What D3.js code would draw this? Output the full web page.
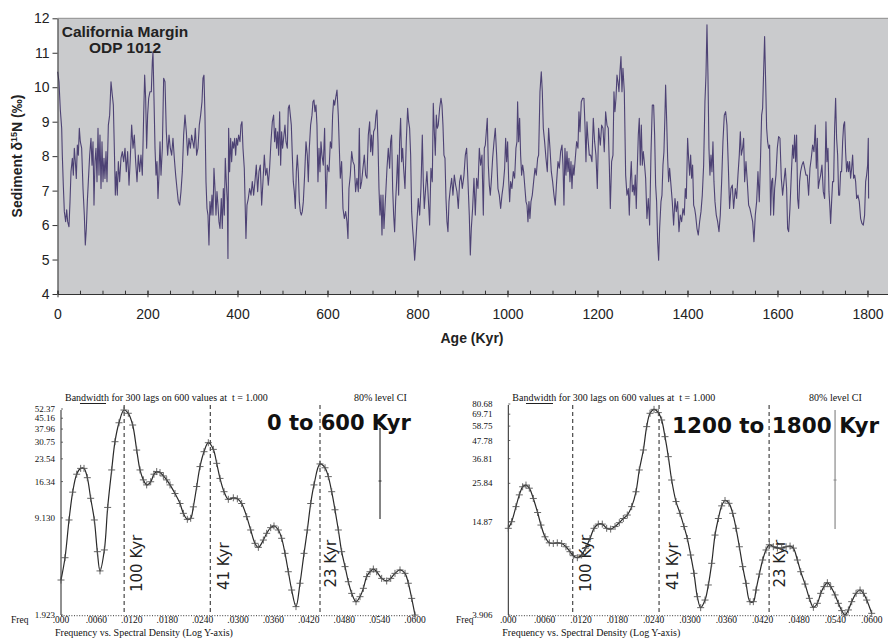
<!DOCTYPE html>
<html>
<head>
<meta charset="utf-8">
<script src="https://cdn.jsdelivr.net/npm/d3@7"></script>
<style>
  body { margin: 0; background: #fff; }
  svg { display: block; }
</style>
</head>
<body>
<svg id="fig" width="888" height="639"></svg>
<script>
// ODP 1012 sediment d15N, [age kyr, permil]
const odp1012 = [
  [0.4,10.45],[3.3,10.16],[6.3,9.34],[9.3,8.81],[10.7,8.03],[12.9,7.16],[15.2,6.39],[18.1,6.10],[20.4,6.44],[22.6,6.10],[25.5,5.95],[27.8,6.68],[30.0,7.55],[33.0,7.94],[35.2,7.45],[37.4,8.23],[39.6,7.84],[41.8,7.35],[44.1,8.32],[46.3,8.03],[48.5,8.81],[50.7,8.42],[53.7,8.23],[56.7,7.06],[59.6,6.29],[61.8,5.42],[64.1,5.90],[66.3,6.68],[68.5,7.26],[71.5,8.03],[74.4,8.52],[76.7,7.74],[78.9,8.42],[81.1,6.58],[83.3,7.84],[85.5,8.23],[87.8,7.26],[90.0,8.81],[92.2,7.45],[94.4,8.61],[96.7,7.06],[98.9,8.42],[101.1,7.26],[103.3,7.94],[105.5,7.35],[107.8,8.13],[110.0,7.26],[113.0,8.90],[115.9,9.19],[118.9,10.16],[121.8,9.77],[124.1,9.48],[126.3,8.23],[128.5,6.87],[130.7,7.55],[132.9,6.87],[135.2,7.84],[138.1,7.26],[141.1,7.94],[144.1,8.13],[147.0,7.84],[150.0,8.23],[152.9,7.55],[155.9,8.13],[158.9,7.16],[161.8,7.94],[164.8,8.90],[167.8,8.23],[170.7,8.61],[173.7,7.84],[176.7,7.26],[179.6,8.03],[182.6,7.55],[185.5,8.03],[188.5,7.45],[191.5,9.19],[193.7,10.35],[195.9,9.68],[198.1,8.23],[200.3,9.19],[202.6,9.68],[205.5,9.87],[208.5,9.87],[210.7,10.74],[212.2,11.03],[214.4,9.68],[216.7,8.23],[218.9,7.45],[221.1,7.84],[223.3,6.77],[225.5,7.45],[227.8,8.42],[230.0,7.45],[233.0,8.23],[235.9,10.26],[238.9,10.16],[241.8,8.71],[244.8,8.03],[247.8,8.61],[250.7,8.23],[253.7,8.03],[256.6,8.52],[259.6,7.94],[262.6,7.45],[265.5,7.06],[268.5,6.68],[271.5,6.58],[274.4,6.97],[277.4,7.55],[280.3,8.61],[283.3,9.19],[286.3,8.71],[289.2,8.03],[292.2,8.52],[295.2,8.23],[298.1,8.61],
  [303.3,8.23],[306.3,8.81],[309.2,8.03],[312.2,8.23],[315.1,8.90],[318.1,9.19],[321.1,9.58],[323.3,10.26],[325.5,10.35],[327.7,9.19],[330.0,7.26],[332.2,6.48],[334.4,6.29],[336.6,5.42],[338.8,6.68],[341.1,6.29],[343.3,6.87],[345.5,6.29],[347.7,7.65],[350.0,7.06],[352.2,6.29],[354.4,6.97],[356.6,6.58],[358.8,6.10],[361.1,5.90],[364.0,6.77],[366.2,5.90],[368.5,7.06],[370.7,6.29],[372.9,7.94],[375.1,7.26],[377.4,6.68],[378.8,5.03],[380.3,8.81],[382.5,7.55],[384.8,8.52],[387.0,7.84],[389.2,8.42],[391.4,8.23],[393.7,8.52],[395.9,8.03],[398.1,8.52],[400.3,8.32],[402.5,8.61],[405.5,8.42],[407.7,8.90],[410.0,9.00],[412.2,8.23],[415.1,7.65],[417.4,6.39],[418.8,5.61],[421.1,6.58],[424.0,6.77],[427.0,7.06],[430.0,6.87],[432.9,7.26],[435.9,6.87],[438.8,7.26],[441.8,7.74],[444.8,6.97],[447.7,7.55],[450.7,7.74],[453.7,6.58],[456.6,7.26],[459.6,8.03],[462.5,7.45],[465.5,7.65],[468.5,7.16],[471.4,7.65],[474.4,8.42],[477.4,9.00],[480.3,9.19],[482.5,8.42],[484.8,8.81],[487.0,8.23],[489.2,8.71],[491.4,8.03],[493.7,9.29],[495.9,7.74],[498.1,8.71],[500.3,8.23],[502.5,8.52],[505.5,8.90],[507.7,8.42],[510.7,8.23],[512.9,9.39],[515.1,9.48],[517.4,9.19],[519.6,8.90],[521.8,8.03],[524.0,7.26],[526.2,6.97],[528.5,6.48],[530.7,7.55],[532.9,8.03],[535.1,7.55],[537.4,6.68],[539.6,6.39],[541.8,6.29],[544.0,6.39],[546.3,6.68],[549.2,7.45],[552.2,8.42],[555.1,8.03],[557.4,7.26],[559.6,8.23],[562.5,8.90],[565.5,9.19],[567.7,9.58],[569.9,9.63],[572.2,9.29],[574.4,9.48],[576.6,8.90],[578.8,7.26],[581.1,8.23],[583.3,7.55],[585.5,8.42],[587.7,8.03],[590.7,7.74],[593.6,8.81],[596.6,6.48],[599.6,7.74],
  [603.3,7.55],[606.3,8.42],[609.2,8.23],[611.4,9.19],[613.7,9.63],[615.9,9.48],[618.1,9.68],[621.1,9.92],[624.0,9.19],[626.3,8.23],[628.5,7.36],[631.4,7.84],[634.4,6.48],[637.4,6.19],[640.3,6.39],[643.3,6.10],[645.5,5.61],[647.7,7.06],[650.7,7.45],[653.7,8.13],[656.6,7.84],[659.6,7.74],[662.5,6.97],[665.5,7.36],[668.5,6.97],[670.7,8.81],[672.9,7.06],[675.9,7.26],[678.8,7.65],[681.8,8.03],[684.8,7.45],[687.7,7.36],[690.7,8.61],[693.7,9.00],[695.9,8.13],[698.1,8.61],[700.3,8.03],[702.5,8.71],[705.5,8.81],[707.7,9.19],[709.9,9.34],[712.2,8.42],[714.4,7.06],[716.6,6.29],[718.8,6.87],[721.1,5.71],[723.3,6.87],[725.5,5.90],[727.7,6.48],[730.0,7.06],[732.2,7.65],[735.1,8.23],[738.1,7.65],[740.3,8.42],[742.5,8.61],[744.8,7.06],[747.0,6.29],[749.2,5.81],[751.4,6.68],[753.6,7.26],[755.9,8.03],[758.1,6.87],[760.3,8.42],[762.5,9.10],[764.8,7.84],[767.0,8.23],[769.2,7.65],[772.2,7.06],[775.1,8.42],[778.1,9.39],[780.3,9.00],[782.5,8.81],[784.8,8.03],[787.0,6.39],[789.2,5.90],[791.4,5.52],[793.7,4.98],[795.9,5.42],[798.8,6.10],[801.8,6.77],[804.8,6.29],[807.7,7.06],[810.7,8.61],[812.9,7.26],[815.1,6.48],[818.1,7.06],[821.0,7.55],[824.0,6.77],[827.0,6.00],[829.9,7.65],[832.9,7.26],[835.1,9.53],[837.4,8.71],[839.6,8.03],[841.8,9.19],[844.0,8.81],[846.2,8.90],[849.2,9.39],[852.2,9.68],[854.4,9.48],[856.6,8.90],[858.8,8.03],[861.1,7.94],[863.3,6.77],[865.5,6.10],[867.7,5.81],[870.0,6.68],[872.9,7.06],[875.9,7.36],[878.8,6.87],[881.8,7.45],[884.8,7.16],[887.7,6.97],[890.7,6.48],[893.6,7.26],[896.6,7.45],[899.6,7.06],
  [903.3,7.45],[906.3,8.03],[909.2,8.23],[912.2,7.26],[915.1,6.29],[917.4,5.13],[919.6,5.90],[922.5,6.48],[925.5,7.36],[928.5,6.29],[931.4,7.36],[934.4,7.06],[937.4,8.23],[940.3,7.74],[943.3,8.03],[946.3,6.29],[948.5,8.23],[950.7,8.32],[952.9,8.71],[955.1,9.10],[957.4,7.74],[959.6,7.16],[961.8,6.87],[964.0,7.26],[967.0,7.94],[970.0,8.42],[972.9,8.81],[975.9,8.03],[978.8,7.06],[981.8,6.87],[984.8,6.48],[987.7,6.87],[990.7,7.16],[993.7,7.65],[995.9,8.52],[998.1,7.84],[1000.3,8.42],[1002.5,7.36],[1004.8,6.68],[1007.0,7.26],[1009.9,7.06],[1012.9,7.55],[1015.9,7.36],[1018.8,8.23],[1021.1,8.42],[1022.5,9.58],[1024.8,8.42],[1027.0,9.10],[1029.2,8.03],[1031.4,7.45],[1033.7,7.74],[1035.9,7.55],[1038.8,7.06],[1041.1,6.68],[1043.3,6.58],[1045.5,6.10],[1047.7,6.68],[1049.9,6.19],[1052.2,6.68],[1055.1,6.87],[1058.1,7.26],[1061.1,7.65],[1064.0,7.45],[1067.0,7.94],[1069.2,8.03],[1072.2,9.87],[1075.1,10.45],[1077.4,9.87],[1079.6,8.81],[1082.5,8.42],[1085.5,7.94],[1088.5,7.55],[1091.4,8.81],[1094.4,8.23],[1097.4,7.55],[1100.3,7.26],[1103.3,6.87],[1106.2,6.58],[1109.2,7.26],[1112.2,7.84],[1115.1,7.65],[1118.1,8.13],[1121.1,8.32],[1123.3,7.74],[1125.5,6.58],[1127.7,8.23],[1129.9,7.45],[1132.2,8.13],[1134.4,7.55],[1136.6,7.94],[1138.8,7.26],[1141.1,7.84],[1143.3,7.06],[1145.5,7.74],[1147.7,7.45],[1150.7,7.94],[1153.6,8.42],[1156.6,8.23],[1158.8,9.29],[1161.1,8.71],[1164.0,9.58],[1167.0,9.68],[1169.9,9.68],[1172.2,8.90],[1174.4,7.84],[1176.6,9.00],[1178.8,8.52],[1181.8,8.03],[1184.8,8.03],[1187.7,7.84],[1190.7,9.10],[1193.6,8.42],[1196.6,8.03],[1199.6,7.06],[1202.5,8.81],
  [1206.3,8.32],[1209.2,8.90],[1212.2,8.81],[1215.1,8.13],[1218.1,9.29],[1221.1,8.90],[1224.0,8.81],[1226.3,7.74],[1228.5,6.48],[1231.4,7.84],[1234.4,8.03],[1236.6,9.87],[1238.8,9.29],[1241.1,9.68],[1243.3,10.35],[1245.5,10.16],[1247.7,9.87],[1249.9,10.45],[1252.2,10.89],[1254.4,9.87],[1256.6,10.55],[1259.6,9.87],[1262.6,7.45],[1265.5,6.87],[1268.5,7.06],[1270.7,6.29],[1272.9,7.26],[1275.1,7.84],[1277.4,6.97],[1279.6,7.16],[1281.8,6.87],[1284.0,7.45],[1286.2,6.48],[1288.5,7.65],[1290.7,8.61],[1292.9,9.10],[1295.1,7.74],[1297.4,8.90],[1299.6,7.74],[1301.8,8.13],[1304.0,7.84],[1307.0,7.36],[1309.9,6.19],[1312.9,6.77],[1315.9,6.00],[1318.8,8.03],[1321.8,9.48],[1324.8,9.48],[1327.0,8.61],[1329.2,7.16],[1331.4,6.68],[1333.7,5.52],[1335.9,4.98],[1338.1,5.90],[1341.1,6.68],[1343.3,6.87],[1345.5,7.74],[1347.7,8.13],[1349.9,9.19],[1351.4,10.06],[1353.6,9.10],[1355.9,7.94],[1358.1,7.26],[1360.3,7.65],[1363.3,7.16],[1366.2,6.68],[1369.2,6.00],[1372.2,6.77],[1375.1,6.39],[1378.1,6.68],[1381.1,5.81],[1384.0,6.29],[1387.0,6.10],[1390.0,6.48],[1392.9,6.29],[1395.1,7.06],[1397.4,6.77],[1400.3,8.52],[1402.5,7.94],[1404.8,7.45],[1407.0,8.03],[1409.2,7.36],[1411.4,7.74],[1413.7,6.58],[1415.9,6.48],[1418.1,6.29],[1421.1,5.90],[1424.0,5.71],[1427.0,6.10],[1430.0,6.39],[1432.9,6.87],[1435.9,7.74],[1438.8,9.58],[1441.1,10.35],[1443.3,11.81],[1445.5,10.35],[1447.7,8.23],[1449.9,7.45],[1452.2,8.03],[1454.4,7.55],[1456.6,8.42],[1458.8,7.26],[1461.1,6.68],[1464.0,6.29],[1467.0,6.10],[1470.0,5.81],[1472.9,6.29],[1475.9,7.26],[1478.8,8.42],[1481.8,9.19],[1484.8,9.29],[1487.7,8.90],[1490.7,7.74],[1493.6,6.48],[1496.6,7.06],[1499.6,7.16],[1502.5,6.48],
  [1506.3,7.06],[1509.2,6.77],[1512.2,7.45],[1515.1,8.03],[1517.4,8.71],[1519.6,8.03],[1522.5,8.23],[1524.8,8.52],[1527.0,7.26],[1530.0,7.84],[1532.9,7.26],[1535.9,6.58],[1538.8,6.48],[1541.8,6.29],[1544.8,6.10],[1547.7,5.52],[1550.7,6.29],[1553.7,6.68],[1556.6,7.55],[1559.6,6.68],[1562.5,8.03],[1564.8,9.19],[1567.0,9.39],[1569.2,10.45],[1571.4,11.47],[1573.7,10.16],[1575.9,8.81],[1578.1,8.42],[1580.3,8.23],[1582.5,8.32],[1584.8,6.29],[1587.0,7.26],[1589.2,7.36],[1591.4,6.29],[1593.7,7.06],[1596.6,7.45],[1599.6,8.23],[1602.5,8.57],[1605.5,8.52],[1608.5,7.36],[1611.4,6.87],[1614.4,7.26],[1617.4,7.65],[1620.3,7.06],[1622.5,5.90],[1624.8,5.81],[1627.7,6.48],[1630.7,7.45],[1633.7,8.32],[1635.9,7.94],[1638.1,8.61],[1640.3,7.84],[1642.5,8.61],[1644.8,6.77],[1647.0,6.48],[1649.2,7.26],[1651.4,7.55],[1654.4,7.74],[1657.4,7.84],[1660.3,7.65],[1663.3,7.45],[1666.2,7.45],[1669.2,6.87],[1672.2,7.65],[1675.1,7.94],[1678.1,8.32],[1681.1,8.13],[1684.0,8.90],[1686.3,7.65],[1688.5,8.52],[1690.7,7.06],[1692.9,7.26],[1695.9,7.45],[1698.8,7.74],[1701.8,6.97],[1704.8,6.77],[1707.7,9.00],[1709.9,7.84],[1712.2,8.23],[1714.4,6.97],[1716.6,6.48],[1718.1,6.05],[1720.3,6.68],[1722.5,7.26],[1724.8,7.26],[1727.0,8.81],[1729.2,9.68],[1731.4,8.52],[1733.7,8.03],[1735.9,6.87],[1738.1,6.87],[1740.3,7.55],[1742.5,7.55],[1744.8,8.42],[1747.0,8.90],[1749.2,9.00],[1751.4,8.13],[1753.7,7.55],[1755.9,7.84],[1758.1,7.55],[1760.3,7.84],[1762.5,7.36],[1764.8,7.65],[1767.0,8.03],[1769.2,7.36],[1771.5,7.45],[1773.7,7.26],[1775.9,6.77],[1778.8,6.87],[1781.8,6.68],[1784.8,6.19],[1787.7,6.05],[1790.7,6.00],[1793.6,6.29],[1795.9,7.26],[1798.1,7.45],[1800.3,7.74],[1801.8,8.52],[1802.5,6.77]
];
const ageTicks = [0, 200, 400, 600, 800, 1000, 1200, 1400, 1600, 1800];
const d15nTicks = [4, 5, 6, 7, 8, 9, 10, 11, 12];

// spectral density [frequency, density]
const spectrumEarly = [
  [0,3.37],[0.00068,4.82],[0.00136,8.83],[0.00198,13.8],[0.00266,18.4],[0.00333,20.2],[0.00390,20.2],[0.00446,17.4],[0.00503,12.5],[0.00565,8.83],[0.00616,5.31],[0.00661,3.90],[0.00735,5.46],[0.00791,10.8],[0.00859,19.7],[0.00915,31.0],[0.00983,42.0],[0.01068,51.5],[0.01141,48.9],[0.01215,40.5],[0.01283,27.1],[0.01339,19.7],[0.01396,16.8],[0.01452,15.5],[0.01520,16.3],[0.01576,18.4],[0.01622,19.2],[0.01678,18.9],[0.01735,17.9],[0.01791,16.8],[0.01848,15.5],[0.01932,13.5],[0.02017,11.5],[0.02074,9.82],[0.02141,8.92],[0.02198,9.07],[0.02243,10.9],[0.02300,15.1],[0.02356,20.8],[0.02424,26.4],[0.02497,30.5],[0.02582,27.4],[0.02639,21.9],[0.02695,17.2],[0.02763,13.9],[0.02836,12.3],[0.02921,12.6],[0.02989,12.4],[0.03062,11.5],[0.03147,9.31],[0.03215,7.52],[0.03288,6.07],[0.03345,5.69],[0.03430,6.40],[0.03486,7.13],[0.03554,7.81],[0.03610,8.02],[0.03684,7.52],[0.03740,6.58],[0.03797,5.17],[0.03853,3.85],[0.03910,2.87],[0.03983,2.20],[0.04051,3.20],[0.04119,5.17],[0.04175,7.52],[0.04232,11.5],[0.04288,15.5],[0.04390,21.7],[0.04475,20.4],[0.04531,17.7],[0.04588,13.9],[0.04644,10.4],[0.04701,7.52],[0.04757,5.31],[0.04814,4.18],[0.04870,3.28],[0.04927,2.72],[0.05000,2.38],[0.05068,2.58],[0.05125,2.95],[0.05181,3.56],[0.05238,3.85],[0.05294,4.02],[0.05351,3.85],[0.05435,3.46],[0.05520,3.32],[0.05588,3.46],[0.05661,3.75],[0.05746,3.96],[0.05831,3.75],[0.05887,3.20],[0.05944,2.51],[0.06000,1.92]
];
const spectrumLate = [
  [0,13.55],[0.00055,14.9],[0.00127,18.5],[0.00182,21.9],[0.00237,24.6],[0.00292,25.2],[0.00347,24.1],[0.00413,20.8],[0.00484,17.0],[0.00539,14.2],[0.00606,12.0],[0.00677,11.0],[0.00743,10.9],[0.00809,11.0],[0.00881,10.9],[0.00952,10.4],[0.01018,9.69],[0.01073,9.15],[0.01140,8.89],[0.01211,9.24],[0.01277,10.2],[0.01349,11.7],[0.01415,13.55],[0.01486,14.4],[0.01552,14.4],[0.01624,13.55],[0.01690,13.4],[0.01762,13.9],[0.01833,14.7],[0.01899,15.6],[0.01965,16.4],[0.02037,18.5],[0.02108,22.9],[0.02163,31.3],[0.02230,41.7],[0.02285,58.3],[0.02340,70.6],[0.02406,74.7],[0.02477,71.3],[0.02532,64.1],[0.02587,50.5],[0.02642,37.9],[0.02697,27.1],[0.02769,19.9],[0.02835,16.8],[0.02901,13.9],[0.02956,11.7],[0.03011,9.24],[0.03066,7.10],[0.03121,5.08],[0.03176,4.34],[0.03248,4.84],[0.03303,6.01],[0.03358,8.20],[0.03413,12.3],[0.03468,15.6],[0.03523,18.7],[0.03578,20.2],[0.03644,19.4],[0.03705,16.8],[0.03760,13.55],[0.03815,10.4],[0.03870,7.82],[0.03925,6.15],[0.03991,4.73],[0.04046,4.73],[0.04090,5.59],[0.04145,7.03],[0.04200,8.60],[0.04255,9.93],[0.04310,10.7],[0.04376,10.4],[0.04443,10.2],[0.04514,10.2],[0.04586,10.4],[0.04652,10.5],[0.04707,10.2],[0.04773,8.60],[0.04828,7.27],[0.04899,6.09],[0.04971,4.96],[0.05037,4.36],[0.05103,4.62],[0.05158,5.33],[0.05213,5.87],[0.05268,6.21],[0.05323,5.87],[0.05395,5.21],[0.05450,4.62],[0.05505,4.16],[0.05560,3.91],[0.05615,4.20],[0.05670,4.73],[0.05742,5.33],[0.05808,5.59],[0.05863,5.33],[0.05918,4.84],[0.06000,4.00]
];
const freqTickLabels = ['.000', '.0060', '.0120', '.0180', '.0240', '.0300', '.0360', '.0420', '.0480', '.0540', '.0600'];
const earlyYTickLabels = ['1.923', '9.130', '16.34', '23.54', '30.75', '37.96', '45.16', '52.37'];
const lateYTickLabels = ['3.906', '14.87', '25.84', '36.81', '47.78', '58.75', '69.71', '80.68'];
const periodLabels = ['100 Kyr', '41 Kyr', '23 Kyr'];
const earlyPeriodFreq = [0.0107, 0.0253, 0.0439];
const latePeriodFreq = [0.01064, 0.02489, 0.04306];
// 80% CI bar [freq, low, mid, high] and bandwidth bar [f0, f1]
const earlyCI = [0.05407, 8.97, 16.5, 38.6];
const lateCI = [0.05395, 13.4, 27.1, 74.0];
const earlyBandwidth = [0.00322, 0.00763];
const lateBandwidth = [0.00292, 0.00738];

const sans = "'Liberation Sans', Arial, sans-serif";
const serif = "'Liberation Serif', 'Times New Roman', serif";
const svg = d3.select('#fig');

// ---------- top panel: time series
const box = { left: 57.5, right: 888, top: 18.3, bottom: 294 };
const x = d3.scaleLinear().domain([0, 1845.6]).range([box.left, box.right]);
const y = d3.scaleLinear().domain([4, 12]).range([box.bottom, box.top]);

svg.append('rect')
    .attr('x', box.left).attr('y', box.top)
    .attr('width', box.right - box.left).attr('height', box.bottom - box.top)
    .attr('fill', '#cacbcd');
svg.append('line')
    .attr('x1', box.left).attr('x2', box.right)
    .attr('y1', box.top).attr('y2', box.top)
    .attr('stroke', '#8c8c8c');

svg.append('path')
    .datum(odp1012)
    .attr('fill', 'none')
    .attr('stroke', '#4d4274')
    .attr('stroke-width', 1.1)
    .attr('stroke-linejoin', 'round')
    .attr('d', d3.line().x(d => x(d[0])).y(d => y(d[1])));

const yAxisG = svg.append('g')
    .attr('transform', `translate(${box.left},0)`)
    .call(d3.axisLeft(y).tickValues(d15nTicks).tickSize(5).tickSizeOuter(0).tickPadding(3));
yAxisG.attr('font-family', sans).attr('font-size', 14);
yAxisG.selectAll('path, line').attr('stroke', '#333');
yAxisG.selectAll('text').attr('fill', '#222');

const minorG = svg.append('g')
    .attr('transform', `translate(0,${box.bottom})`)
    .call(d3.axisBottom(x).tickValues(d3.range(0, 1801, 50)).tickSize(-3.3).tickSizeOuter(0).tickFormat(''));
minorG.selectAll('path, line').attr('stroke', '#333');

const xAxisG = svg.append('g')
    .attr('transform', `translate(0,${box.bottom})`)
    .call(d3.axisBottom(x).tickValues(ageTicks).tickSize(3.3).tickSizeOuter(0).tickFormat(d3.format('d')));
xAxisG.attr('font-family', sans).attr('font-size', 14);
xAxisG.select('.domain').attr('stroke', '#333').attr('stroke-width', 1.2);
xAxisG.selectAll('line').attr('stroke', '#333').attr('y1', -3.3);
xAxisG.selectAll('text').attr('fill', '#222').attr('y', 15);

const yLabel = svg.append('text')
    .attr('transform', 'translate(22,156) rotate(-90)')
    .attr('text-anchor', 'middle')
    .attr('font-family', sans).attr('font-size', 14).attr('font-weight', 'bold')
    .attr('fill', '#222');
yLabel.append('tspan').text('Sediment δ');
yLabel.append('tspan').attr('font-size', 9).attr('dy', -5).text('15');
yLabel.append('tspan').attr('dy', 5).text('N (‰)');

svg.append('text')
    .attr('x', 472).attr('y', 343)
    .attr('text-anchor', 'middle')
    .attr('font-family', sans).attr('font-size', 14).attr('font-weight', 'bold')
    .attr('fill', '#222')
    .text('Age (Kyr)');

svg.selectAll('.title')
    .data(['California Margin', 'ODP 1012'])
    .join('text')
    .attr('x', 125).attr('y', (d, i) => 36.7 + i * 16.6)
    .attr('text-anchor', 'middle')
    .attr('font-family', sans).attr('font-size', 15.5).attr('font-weight', 'bold')
    .attr('fill', '#222')
    .text(d => d);

// ---------- bottom panels: spectra
function drawSpectrum(cfg) {
    const g = svg.append('g');
    const sx = d3.scaleLinear().domain([0, 0.06]).range(cfg.xRange);
    const yVals = cfg.yTicks.map(Number);
    const sy = d3.scaleLog().domain([yVals[0], yVals[yVals.length - 1]]).range(cfg.yRange);
    const x0 = sx(0);
    const yBase = cfg.yRange[0];

    g.append('line')
        .attr('x1', x0).attr('x2', x0)
        .attr('y1', cfg.yRange[1] + 1).attr('y2', yBase)
        .attr('stroke', '#222');
    g.selectAll('.ytickmark').data(yVals).join('line')
        .attr('x1', x0).attr('x2', x0 + 2)
        .attr('y1', d => sy(d)).attr('y2', d => sy(d))
        .attr('stroke', '#444').attr('stroke-width', 0.8);
    g.selectAll('.ylab').data(cfg.yTicks).join('text')
        .attr('x', cfg.labelX).attr('y', d => sy(+d)).attr('dy', '0.35em')
        .attr('text-anchor', 'end')
        .attr('font-family', serif).attr('font-size', 9).attr('fill', '#111')
        .text(d => d);

    g.append('line')
        .attr('x1', x0).attr('x2', sx(0.06))
        .attr('y1', yBase + 0.7).attr('y2', yBase + 0.7)
        .attr('stroke', '#333').attr('stroke-dasharray', '1,1.6');
    g.selectAll('.xlab').data(freqTickLabels).join('text')
        .attr('x', d => sx(+d)).attr('y', yBase + 8)
        .attr('text-anchor', 'middle')
        .attr('font-family', serif).attr('font-size', 9.5).attr('fill', '#111')
        .text(d => d);
    g.append('text')
        .attr('x', cfg.freqX).attr('y', yBase + 7.5)
        .attr('font-family', serif).attr('font-size', 9.5).attr('fill', '#111')
        .text('Freq');
    g.append('text')
        .attr('x', x0 - 6).attr('y', 636)
        .attr('font-family', serif).attr('font-size', 10).attr('fill', '#111')
        .text('Frequency vs. Spectral Density (Log Y-axis)');

    g.append('text')
        .attr('x', x0 + 4).attr('y', 401)
        .attr('font-family', serif).attr('font-size', 10).attr('fill', '#111')
        .style('white-space', 'pre')
        .text('Bandwidth for 300 lags on 600 values at  t = 1.000');
    g.append('line')
        .attr('x1', sx(cfg.bandwidth[0])).attr('x2', sx(cfg.bandwidth[1]))
        .attr('y1', 403.5).attr('y2', 403.5)
        .attr('stroke', '#222');
    g.append('text')
        .attr('x', sx(cfg.ci[0]) - 26).attr('y', 401)
        .attr('font-family', serif).attr('font-size', 10).attr('fill', '#111')
        .text('80% level CI');
    g.append('line')
        .attr('x1', sx(cfg.ci[0])).attr('x2', sx(cfg.ci[0]))
        .attr('y1', sy(cfg.ci[3])).attr('y2', sy(cfg.ci[1]))
        .attr('stroke', cfg.ciColor).attr('stroke-width', 1.2);
    g.append('line')
        .attr('x1', sx(cfg.ci[0]) - 1.5).attr('x2', sx(cfg.ci[0]) + 1.5)
        .attr('y1', sy(cfg.ci[2])).attr('y2', sy(cfg.ci[2]))
        .attr('stroke', cfg.ciColor);

    g.append('text')
        .attr('x', cfg.title.x).attr('y', cfg.title.y)
        .attr('font-family', "'DejaVu Sans', Verdana, sans-serif")
        .attr('font-size', cfg.title.size).attr('font-weight', 'bold')
        .attr('fill', '#111')
        .text(cfg.title.text);

    const periods = periodLabels.map((label, i) => ({ label, f: cfg.periodFreq[i] }));
    const labelShift = [18, 18.5, 16];
    const labelBottom = [592, 590, 587.5];
    g.selectAll('.plab').data(periods).join('text')
        .attr('transform', (d, i) => `translate(${sx(d.f) + labelShift[i]},${labelBottom[i]}) rotate(-90)`)
        .attr('font-family', "'DejaVu Sans', Verdana, sans-serif")
        .attr('font-size', 15).attr('fill', '#222')
        .text(d => d.label);
    g.selectAll('.pline').data(periods).join('line')
        .attr('x1', d => sx(d.f)).attr('x2', d => sx(d.f))
        .attr('y1', 405).attr('y2', yBase)
        .attr('stroke', '#222').attr('stroke-dasharray', '4,3');

    g.append('path')
        .datum(cfg.data)
        .attr('fill', 'none')
        .attr('stroke', '#2a2a2a')
        .attr('stroke-width', 1.2)
        .attr('d', d3.line().curve(d3.curveCatmullRom).x(d => sx(d[0])).y(d => sy(d[1])));
    g.selectAll('.mark').data(cfg.data).join('path')
        .attr('transform', d => `translate(${sx(d[0])},${sy(d[1])})`)
        .attr('d', 'M-3.5,0H3.5M0,-3.5V3.5')
        .attr('stroke', '#555').attr('stroke-width', 0.9);
}

drawSpectrum({
    data: spectrumEarly,
    xRange: [61, 415],
    yRange: [615, 409],
    yTicks: earlyYTickLabels,
    labelX: 55,
    freqX: 11,
    periodFreq: earlyPeriodFreq,
    ci: earlyCI,
    ciColor: '#333',
    bandwidth: earlyBandwidth,
    title: { text: '0 to 600 Kyr', x: 267, y: 430, size: 21 }
});
drawSpectrum({
    data: spectrumLate,
    xRange: [508.3, 871.7],
    yRange: [615, 404],
    yTicks: lateYTickLabels,
    labelX: 492.5,
    freqX: 456,
    periodFreq: latePeriodFreq,
    ci: lateCI,
    ciColor: '#8a8a8a',
    bandwidth: lateBandwidth,
    title: { text: '1200 to 1800 Kyr', x: 672, y: 433, size: 21.5 }
});
</script>
</body>
</html>
